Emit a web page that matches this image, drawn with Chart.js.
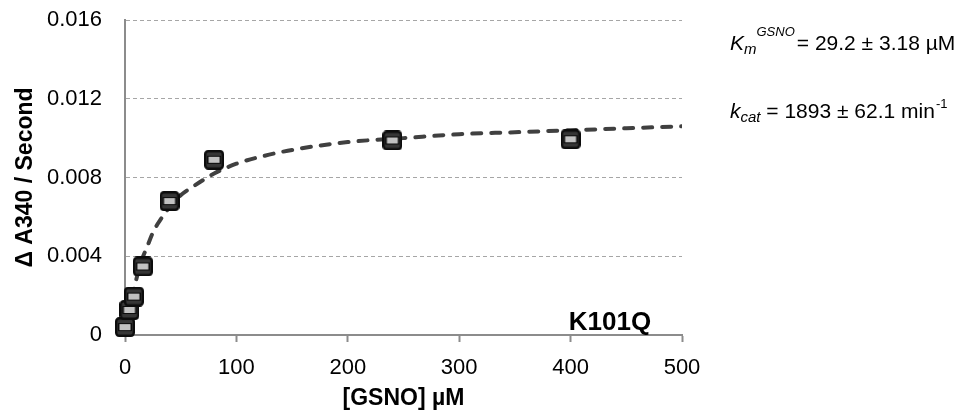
<!DOCTYPE html>
<html><head><meta charset="utf-8">
<script src="https://cdn.jsdelivr.net/npm/chart.js@4"></script>
<style>html,body{margin:0;padding:0;background:#fff;} #wrap{width:958px;height:417px;position:relative;}</style>
</head><body><div id="wrap"><canvas id="c"></canvas></div>
<script>
// ---- data ----
const gsnoConc = [0, 4, 8, 16, 40, 80, 240, 400];
const rateObserved = [0.0004, 0.00127, 0.00195, 0.00348, 0.0068, 0.0089, 0.00988, 0.00994];
const fitConc = [0, 2, 5, 10, 15, 20, 25, 30, 40, 50, 60, 80, 100, 125, 150, 200, 250, 300, 350, 400, 450, 500];
const fitRate = [0, 0.0007, 0.0016, 0.0028, 0.0038, 0.0045, 0.0052, 0.0057, 0.0065, 0.0071, 0.0075, 0.0082, 0.0087, 0.0091, 0.0094, 0.0098, 0.0100, 0.0102, 0.0103, 0.0104, 0.0105, 0.0106];
const xTickValues = [0, 100, 200, 300, 400, 500];
const xTickLabels = ['0', '100', '200', '300', '400', '500'];
const yTickValues = [0, 0.004, 0.008, 0.012, 0.016];
const yTickLabels = ['0', '0.004', '0.008', '0.012', '0.016'];
const xTitle = '[GSNO] µM';
const yTitle = 'Δ A340 / Second';
const mutantLabel = 'K101Q';
const kmLine = { main: 'K', sub: 'm', sup: 'GSNO', rest: '= 29.2 ± 3.18 µM' };
const kcatLine = { main: 'k', sub: 'cat', rest: ' = 1893 ± 62.1 min', sup: '-1' };

const FONT = '"Liberation Sans", Arial, sans-serif';

function makeMarker() {
  const c = document.createElement('canvas');
  c.width = 20; c.height = 20;
  const g = c.getContext('2d');
  g.beginPath();
  g.roundRect(1.2, 1.2, 17.6, 17.6, 3);
  g.fillStyle = '#363636';
  g.fill();
  g.lineWidth = 2.4;
  g.strokeStyle = '#0c0c0c';
  g.stroke();
  g.fillStyle = '#0c0c0c';
  g.fillRect(3, 6, 14, 8);
  g.fillStyle = '#c2c2c2';
  g.fillRect(4.5, 7, 11, 6);
  return c;
}

const annotPlugin = {
  id: 'annot',
  afterDraw(chart) {
    const ctx = chart.ctx;
    ctx.save();
    ctx.fillStyle = '#000';
    ctx.textBaseline = 'alphabetic';
    ctx.textAlign = 'left';
    // Km line
    let x = 730, b = 50;
    ctx.font = 'italic 21px ' + FONT;
    ctx.fillText(kmLine.main, x, b); x += ctx.measureText(kmLine.main).width;
    ctx.font = 'italic 15px ' + FONT;
    ctx.fillText(kmLine.sub, x, b + 4); x += ctx.measureText(kmLine.sub).width;
    ctx.font = 'italic 13px ' + FONT;
    ctx.fillText(kmLine.sup, x, b - 14); x += ctx.measureText(kmLine.sup).width + 2;
    ctx.font = '21px ' + FONT;
    ctx.fillText(kmLine.rest, x, b);
    // kcat line
    x = 730; b = 118;
    ctx.font = 'italic 21px ' + FONT;
    ctx.fillText(kcatLine.main, x, b); x += ctx.measureText(kcatLine.main).width;
    ctx.font = 'italic 15px ' + FONT;
    ctx.fillText(kcatLine.sub, x, b + 4); x += ctx.measureText(kcatLine.sub).width;
    ctx.font = '21px ' + FONT;
    ctx.fillText(kcatLine.rest, x, b); x += ctx.measureText(kcatLine.rest).width + 1;
    ctx.font = '13px ' + FONT;
    ctx.fillText(kcatLine.sup, x, b - 10);
    // mutant label
    ctx.font = 'bold 26px ' + FONT;
    ctx.textAlign = 'center';
    ctx.fillText(mutantLabel, 610, 330);
    ctx.restore();
  }
};

const marker = makeMarker();

new Chart(document.getElementById('c'), {
  type: 'scatter',
  data: {
    datasets: [
      {
        label: 'observed',
        data: gsnoConc.map((v, i) => ({ x: v, y: rateObserved[i] })),
        pointStyle: marker,
        pointRadius: 10,
        clip: false,
        order: 0
      },
      {
        label: 'fit',
        type: 'line',
        data: fitConc.map((v, i) => ({ x: v, y: fitRate[i] })),
        showLine: true,
        pointRadius: 0,
        borderColor: '#404040',
        borderWidth: 4,
        borderDash: [9, 10],
        borderCapStyle: 'round',
        cubicInterpolationMode: 'monotone',
        fill: false,
        order: 1
      }
    ]
  },
  plugins: [annotPlugin],
  options: {
    responsive: true,
    maintainAspectRatio: false,
    animation: false,
    layout: { padding: { left: 0, right: 276, top: 20, bottom: 0 } },
    plugins: { legend: { display: false }, tooltip: { enabled: false } },
    scales: {
      x: {
        type: 'linear',
        min: 0, max: 500,
        afterBuildTicks: s => { s.ticks = xTickValues.map(v => ({ value: v })); },
        afterFit: s => { s.height = 82; },
        ticks: {
          callback: (v, i) => xTickLabels[i],
          color: '#000',
          font: { family: FONT, size: 22 },
          padding: 13,
          maxRotation: 0
        },
        grid: { drawOnChartArea: false, drawTicks: true, tickLength: 7, tickWidth: 2, tickColor: '#8c8c8c' },
        border: { display: true, color: '#8c8c8c', width: 2 },
        title: {
          display: true, text: xTitle, color: '#000',
          font: { family: FONT, size: 23, weight: 'bold' },
          padding: { top: 0, bottom: 5 }
        }
      },
      y: {
        type: 'linear',
        min: 0, max: 0.016,
        afterBuildTicks: s => { s.ticks = yTickValues.map(v => ({ value: v })); },
        afterFit: s => { s.width = 125; s.paddingTop = 12; s.paddingBottom = 12; },
        ticks: {
          callback: (v, i) => yTickLabels[i],
          color: '#000',
          font: { family: FONT, size: 22 },
          padding: 23
        },
        grid: { drawOnChartArea: true, drawTicks: false, color: '#a6a6a6', lineWidth: 1 },
        border: { display: true, color: '#8c8c8c', width: 2, dash: [4, 3] },
        title: {
          display: true, text: yTitle, color: '#000',
          font: { family: FONT, size: 23, weight: 'bold' },
          padding: { top: 12, bottom: 0 }
        }
      }
    }
  }
});
</script>
</body></html>
